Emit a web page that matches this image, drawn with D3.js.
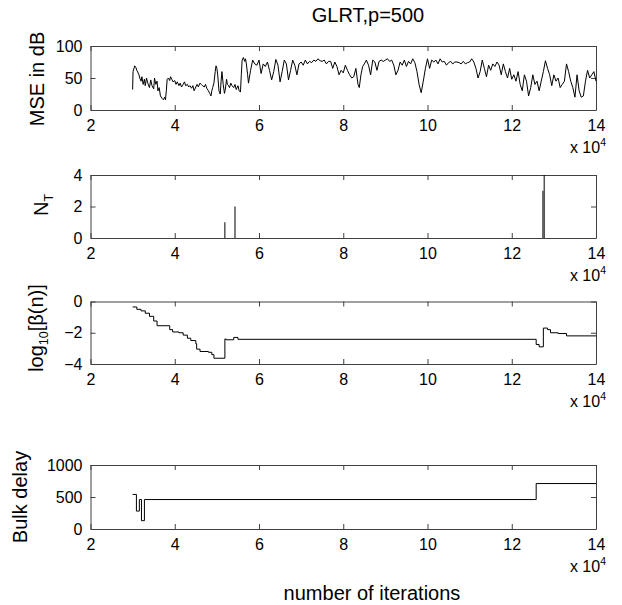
<!DOCTYPE html>
<html><head><meta charset="utf-8">
<script src="https://cdn.jsdelivr.net/npm/d3@7"></script>
<style>
body{margin:0;background:#fff}
text{font-family:"Liberation Sans",Arial,Helvetica,sans-serif;fill:#000}
</style>
</head><body>
<svg id="c" width="622" height="605"></svg>
<script>
// ---------- data (iterations in units of 1e4) ----------
const xTicks = [2,4,6,8,10,12,14];
const mseTicks = [0,50,100];
const ntTicks = [0,2,4];
const betaTicks = [-4,-2,0];
const delayTicks = [0,500,1000];

const mseData = [
[3.00,32],[3.01,60],[3.05,69],[3.08,66],[3.10,62],[3.13,58],[3.15,55],[3.17,50],[3.20,45],[3.22,52],
[3.25,40],[3.28,48],[3.30,38],[3.33,50],[3.36,42],[3.40,35],[3.43,47],[3.46,38],[3.50,33],[3.52,50],
[3.55,40],[3.58,45],[3.60,30],[3.63,35],[3.66,22],[3.70,18],[3.73,16],[3.76,20],[3.78,16],[3.80,30],
[3.82,48],[3.85,50],[3.88,46],[3.90,52],[3.93,48],[3.96,44],[4.00,46],[4.03,40],[4.06,44],[4.10,38],
[4.13,42],[4.16,36],[4.20,40],[4.23,44],[4.26,38],[4.30,40],[4.33,36],[4.36,38],[4.40,34],[4.43,38],
[4.46,30],[4.50,36],[4.53,40],[4.56,36],[4.60,42],[4.63,40],[4.66,38],[4.70,36],[4.73,40],[4.76,34],
[4.80,30],[4.83,26],[4.86,22],[4.88,30],[4.90,35],[4.93,42],[4.96,60],[4.98,69],[5.00,65],[5.02,55],
[5.05,30],[5.08,25],[5.10,45],[5.12,60],[5.15,40],[5.18,26],[5.20,32],[5.23,48],[5.25,40],[5.28,38],
[5.30,35],[5.33,42],[5.36,38],[5.40,35],[5.43,40],[5.46,32],[5.50,38],[5.53,30],[5.56,28],[5.58,55],
[5.60,78],[5.63,82],[5.66,76],[5.68,80],[5.70,72],[5.73,55],[5.75,42],[5.80,62],[5.85,78],[5.90,72],
[5.95,70],[6.00,78],[6.05,57],[6.10,72],[6.15,68],[6.20,75],[6.25,62],[6.30,47],[6.35,60],[6.40,79],
[6.45,70],[6.50,44],[6.55,60],[6.60,78],[6.65,72],[6.70,47],[6.75,62],[6.80,78],[6.85,70],[6.90,55],
[6.95,72],[7.00,75],[7.05,70],[7.10,78],[7.15,72],[7.20,76],[7.25,74],[7.30,78],[7.35,76],[7.40,80],
[7.45,77],[7.50,76],[7.55,78],[7.60,72],[7.65,76],[7.70,76],[7.75,65],[7.80,75],[7.85,68],[7.90,55],
[7.95,62],[8.00,58],[8.05,70],[8.10,62],[8.15,55],[8.20,50],[8.25,52],[8.30,65],[8.35,40],[8.38,35],
[8.42,55],[8.46,68],[8.50,72],[8.55,78],[8.60,70],[8.65,55],[8.70,78],[8.75,75],[8.80,62],[8.85,76],
[8.90,78],[8.95,76],[9.00,78],[9.05,80],[9.10,76],[9.15,78],[9.20,70],[9.25,55],[9.30,62],[9.35,75],
[9.40,70],[9.45,78],[9.50,68],[9.55,76],[9.60,72],[9.65,80],[9.70,74],[9.75,60],[9.80,40],[9.85,27],
[9.90,45],[9.95,65],[10.00,80],[10.05,65],[10.10,78],[10.15,75],[10.20,78],[10.25,72],[10.30,80],[10.35,75],
[10.40,76],[10.45,70],[10.50,74],[10.55,76],[10.60,72],[10.65,75],[10.70,75],[10.75,74],[10.80,72],[10.85,76],
[10.90,72],[10.95,74],[11.00,75],[11.05,80],[11.10,75],[11.15,65],[11.20,50],[11.25,60],[11.30,78],[11.35,65],
[11.40,52],[11.45,70],[11.50,62],[11.55,72],[11.60,68],[11.65,75],[11.70,70],[11.75,55],[11.80,72],[11.85,60],
[11.90,50],[11.95,65],[12.00,48],[12.05,55],[12.10,45],[12.15,60],[12.20,40],[12.25,30],[12.30,55],[12.35,45],
[12.40,22],[12.45,35],[12.50,55],[12.55,40],[12.60,45],[12.65,30],[12.70,45],[12.75,60],[12.80,77],[12.85,65],
[12.90,55],[12.95,38],[13.00,55],[13.05,45],[13.10,50],[13.15,35],[13.20,40],[13.25,45],[13.30,72],[13.35,60],
[13.40,45],[13.45,35],[13.50,20],[13.55,55],[13.60,30],[13.65,20],[13.70,22],[13.75,45],[13.80,62],[13.85,50],
[13.90,55],[13.95,60],[14.00,45]
];

const ntIter = [5.19,5.43,12.74,12.77];
const ntCount = [1,2,3,4];

const betaData = [
[3.00,-0.35],[3.10,-0.5],[3.20,-0.6],[3.30,-0.75],[3.40,-0.95],[3.50,-1.25],[3.58,-1.55],[3.88,-1.8],
[3.95,-1.95],[4.10,-2.0],[4.20,-2.15],[4.30,-2.35],[4.38,-2.5],[4.50,-2.7],[4.52,-3.05],[4.60,-3.2],
[4.80,-3.25],[4.88,-3.4],[4.93,-3.63],[5.19,-2.4],[5.22,-2.45],[5.40,-2.3],[5.50,-2.42],[12.58,-2.75],
[12.65,-2.9],[12.75,-1.7],[12.85,-1.8],[12.92,-2.0],[13.10,-2.05],[13.30,-2.2],[14.00,-2.2]
];

const delayData = [
[3.00,540],[3.09,280],[3.16,460],[3.21,130],[3.28,460],[12.58,710],[14.00,710]
];

// ---------- layout ----------
const svg = d3.select("#c");
const L = 90.5, R = 596;
const x = d3.scaleLinear().domain([2,14]).range([L,R]);
const axisCol = "#404040";
const FONT = '"Liberation Sans",Arial,Helvetica,sans-serif';

const panels = [
  {top:46, bottom:110, dom:[0,100], ticks:mseTicks},
  {top:175, bottom:238, dom:[0,4], ticks:ntTicks},
  {top:301.5, bottom:364, dom:[-4,0], ticks:betaTicks},
  {top:465, bottom:529, dom:[0,1000], ticks:delayTicks}
];

function drawAxes(p){
  const y = d3.scaleLinear().domain(p.dom).range([p.bottom,p.top]);
  const g = svg.append("g");
  g.append("g").attr("transform",`translate(0,${p.bottom})`)
    .call(d3.axisBottom(x).tickValues(xTicks).tickSize(-5).tickSizeOuter(0).tickPadding(10).tickFormat(d3.format("d")));
  g.append("g").attr("transform",`translate(0,${p.top})`)
    .call(d3.axisTop(x).tickValues(xTicks).tickSize(-5).tickSizeOuter(0).tickFormat(""));
  g.append("g").attr("transform",`translate(${L},0)`)
    .call(d3.axisLeft(y).tickValues(p.ticks).tickSize(-5).tickSizeOuter(0).tickPadding(8).tickFormat(d3.format("d")));
  g.append("g").attr("transform",`translate(${R},0)`)
    .call(d3.axisRight(y).tickValues(p.ticks).tickSize(-5).tickSizeOuter(0).tickFormat(""));
  g.selectAll("path.domain").attr("stroke",axisCol).attr("stroke-width",1);
  g.selectAll(".tick line").attr("stroke",axisCol);
  g.selectAll(".tick text").attr("font-size",16).attr("fill","#000").style("font-family",FONT);
  const ex = g.append("text").attr("x",606).attr("y",p.bottom+43)
    .attr("text-anchor","end").attr("font-size",16);
  ex.append("tspan").text("x 10");
  ex.append("tspan").attr("dy",-7).attr("font-size",10.5).text("4");
  return y;
}

const ys = panels.map(drawAxes);

// Panel 1: MSE
svg.append("path").datum(mseData)
  .attr("fill","none").attr("stroke","#000").attr("stroke-width",1)
  .attr("d", d3.line().x(d=>x(d[0])).y(d=>ys[0](d[1])));

// Panel 2: N_T stems
svg.append("g").selectAll("line").data(ntIter.map((v,i)=>[v,ntCount[i]])).join("line")
  .attr("x1",d=>x(d[0])).attr("x2",d=>x(d[0]))
  .attr("y1",ys[1](0)).attr("y2",d=>ys[1](d[1]))
  .attr("stroke","#000").attr("stroke-width",1);

// Panel 3: log beta
svg.append("path").datum(betaData)
  .attr("fill","none").attr("stroke","#000").attr("stroke-width",1)
  .attr("d", d3.line().curve(d3.curveStepAfter).x(d=>x(d[0])).y(d=>ys[2](d[1])));

// Panel 4: bulk delay
svg.append("path").datum(delayData)
  .attr("fill","none").attr("stroke","#000").attr("stroke-width",1)
  .attr("d", d3.line().curve(d3.curveStepAfter).x(d=>x(d[0])).y(d=>ys[3](d[1])));

// ---------- labels ----------
svg.append("text").attr("x",368).attr("y",22).attr("text-anchor","middle")
  .attr("font-size",20).text("GLRT,p=500");

function ylab(xp, yp){
  return svg.append("text").attr("transform",`translate(${xp},${yp}) rotate(-90)`)
    .attr("text-anchor","middle").attr("font-size",20);
}
ylab(44,79).text("MSE in dB");
const nt = ylab(48,205);
nt.append("tspan").text("N");
nt.append("tspan").attr("dy",5).attr("font-size",12.5).text("T");
const lb = ylab(43,328);
lb.append("tspan").text("log");
lb.append("tspan").attr("dy",5).attr("font-size",12.5).text("10");
lb.append("tspan").attr("dy",-5).text("[β(n)]");
ylab(27,497).text("Bulk delay");

svg.append("text").attr("x",372).attr("y",600).attr("text-anchor","middle")
  .attr("font-size",20).text("number of iterations");
</script>
</body></html>
